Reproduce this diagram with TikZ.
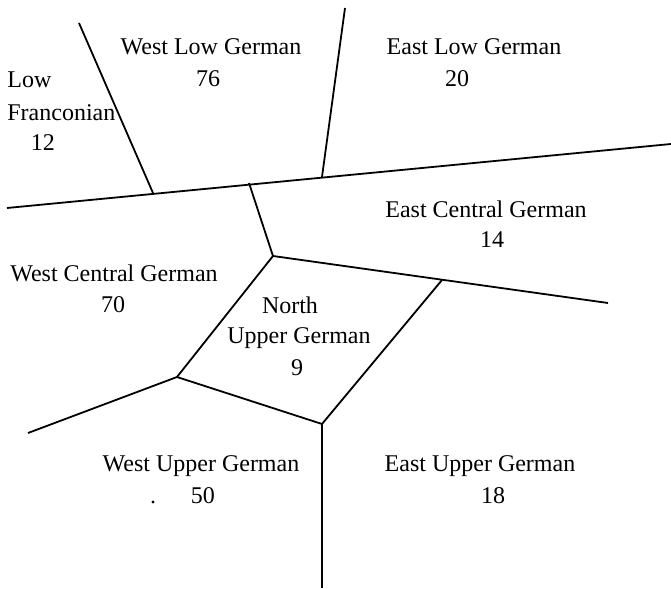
\documentclass[tikz,border=0pt]{standalone}
\usepackage{fontspec}
\setmainfont{Liberation Serif}
\usepackage{tikz}
\usetikzlibrary{positioning}

\begin{document}
\begin{tikzpicture}[x=0.5pt, y=-0.5pt,
    border/.style={line width=0.9pt},
    region/.style={inner sep=0pt, font=\fontsize{12}{14}\selectfont},
    count/.style={region}]
\useasboundingbox (0,0) rectangle (671,589);

% Junctions of the borders
\coordinate (lfTop) at (79,23);
\coordinate (lfFoot) at (153,193);
\coordinate (lowTop) at (345,8);
\coordinate (lowFoot) at (322,177);
\coordinate (mainW) at (7,208);
\coordinate (mainE) at (671,144);
\coordinate (centFoot) at (249,183);
\coordinate (nucN) at (273,256);
\coordinate (ecE) at (608,303);
\coordinate (nucE) at (442,280);
\coordinate (nucW) at (177,377);
\coordinate (wcW) at (28,433);
\coordinate (nucS) at (322,424);
\coordinate (upS) at (322,588);

% Borders
\draw[border] (lfTop) -- (lfFoot);
\draw[border] (lowTop) -- (lowFoot);
\draw[border] (mainW) -- (mainE);
\draw[border] (centFoot) -- (nucN);
\draw[border] (nucN) -- (ecE);
\draw[border] (nucN) -- (nucW);
\draw[border] (nucW) -- (wcW);
\draw[border] (nucW) -- (nucS);
\draw[border] (nucS) -- (nucE);
\draw[border] (nucS) -- (upS);

% Region names
\node[region, anchor=west] (lowName) at (7,80) {Low};
\node[region, anchor=west] (francName) at (7,113) {Franconian};
\node[count] (francNum) at (43,143) {12};

\node[region] (wlgName) at (211,47) {West Low German};
\node[count] (wlgNum) at (208,79) {76};

\node[region] (elgName) at (474,47) {East Low German};
\node[count] (elgNum) at (457,79) {20};

\node[region] (ecgName) at (486,209) {East Central German};
\node[count] (ecgNum) at (492,240) {14};

\node[region] (wcgName) at (114,273) {West Central German};
\node[count] (wcgNum) at (113,305) {70};

\node[region] (nugName) at (290,305) {North};
\node[region] (nugName2) at (299,338) {Upper German};
\node[count] (nugNum) at (297,368) {9};

\node[region] (wugName) at (201,466) {West Upper German};
\node[count] (wugNum) at (203,496) {50};
\fill (153,502) circle (1.6);

\node[region] (eugName) at (480,466) {East Upper German};
\node[count] (eugNum) at (493,496) {18};

\end{tikzpicture}
\end{document}
